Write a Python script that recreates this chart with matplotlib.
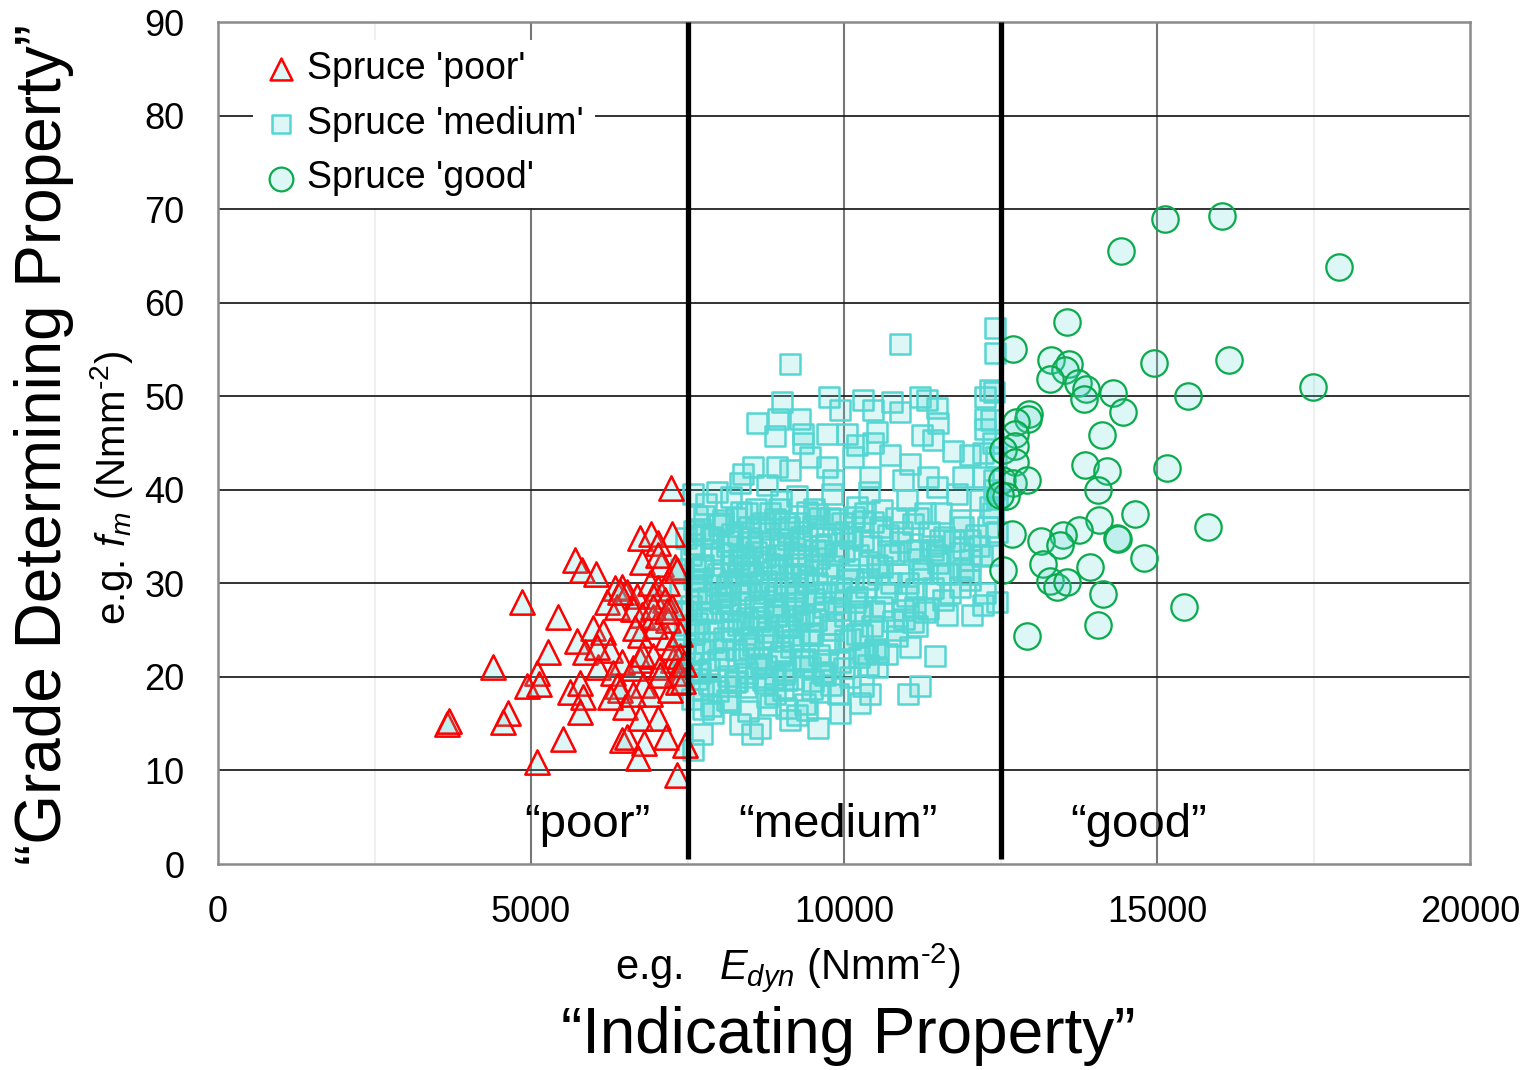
import matplotlib
matplotlib.use("Agg")
import matplotlib.pyplot as plt

plt.rcParams['font.family'] = ['Liberation Sans', 'DejaVu Sans']
plt.rcParams['mathtext.fontset'] = 'custom'
plt.rcParams['mathtext.rm'] = 'Liberation Sans'
plt.rcParams['mathtext.it'] = 'Liberation Sans:italic'

# ---- grading data: dynamic modulus (N/mm^2) vs bending strength (N/mm^2) ----
poor_x = [7231, 6741, 6917, 7247, 7029, 6768, 5703, 5809, 6033, 7077,
          7300, 4862, 6342, 6448, 6528, 6688, 6901, 7034, 7167, 6949,
          7141, 7247, 6209, 6368, 6634, 5437, 6768, 6954, 5996, 6145,
          5730, 5863, 6741, 7167, 5277, 6262, 6448, 6741, 6954, 7273,
          7380, 6076, 6315, 6634, 7061, 4388, 5091, 4931, 5133, 5623,
          5783, 5836, 5783, 6368, 6422, 6502, 6262, 6794, 6901, 7220,
          7354, 6741, 7034, 7157, 4638, 4558, 3653, 5505, 6448, 6528,
          6805, 6714, 5091, 7327, 7460, 6768, 7327, 7061, 6634, 6049,
          7194, 6981, 7247, 6422, 7034, 7327, 6661, 7380, 6954, 7167,
          3690, 7420, 7450]
poor_y = [40.2, 34.9, 35.3, 35.3, 34.3, 32.3, 32.5, 31.4, 31.0, 32.1,
          31.7, 28.0, 29.5, 29.6, 29.1, 28.6, 30.0, 29.5, 30.0, 28.6,
          28.2, 27.5, 28.0, 27.5, 27.3, 26.4, 26.6, 26.4, 25.2, 24.8,
          23.8, 22.7, 24.5, 24.3, 22.7, 22.9, 21.6, 21.8, 22.2, 21.8,
          22.2, 21.1, 20.4, 20.9, 21.1, 21.1, 20.4, 19.0, 19.2, 18.4,
          19.4, 17.9, 16.3, 19.0, 18.6, 16.8, 17.9, 19.1, 18.2, 18.6,
          19.5, 15.6, 15.6, 13.6, 16.1, 15.2, 15.0, 13.4, 13.3, 13.6,
          12.9, 11.3, 10.9, 9.5, 12.7, 22.5, 20.4, 20.2, 18.2, 23.2,
          26.1, 25.4, 23.2, 29.1, 33.0, 31.4, 25.2, 24.6, 27.5, 27.0,
          15.3, 19.6, 21.4]

medium_x = [
    # upper and outer part of the cloud
    9137, 10894, 12412, 12412, 9004, 9766, 10309, 10761, 11214, 11321,
    11480, 8605, 8950, 9297, 8898, 9350, 9723, 10043, 9936, 10522,
    10468, 10894, 11241, 11507, 12252, 12332, 12252, 12252, 12225, 12013,
    11746, 11427, 10202, 10468, 9350, 9457, 8551, 8392, 8924, 9137,
    9723, 10149, 10735, 11054, 11347, 11906, 12225, 7593, 7966, 8339,
    8765, 9244, 9830, 10415, 10948, 11480, 11799, 12172, 12332, 7753,
    8072, 8445, 11906, 12013, 11534,
    # lower part of the cloud
    11454, 11214, 11027, 10415, 10309, 9936, 10256, 9590, 9617, 9909,
    9244, 9137, 8658, 8525, 8339, 7912, 7753, 7726, 7593, 8126,
    8818, 9031, 9404, 10522, 10336, 10682, 11054, 12225, 12039, 11640,
    11347, 12013, 11853, 11587, 10948, 11161, 10841, 10522, 10202, 10016,
    9723, 9457, 9670, 9084, 8711, 8445, 8179, 7753, 7700, 11853,
    12013, 11427, 11161, 11534, 11267, 11906,
    # dense core
    7800, 8200, 8600, 9000, 9400, 9800, 10200, 10600, 11000, 11300,
    7650, 8900, 10400, 9600,
    7700, 8000, 8300, 8700, 9100, 9500, 9900, 10300, 10700, 11100,
    11600, 8500, 9300, 10100, 10900, 7600, 11400, 12100, 11900,
    7550, 7900, 8200, 8600, 8800, 9200, 9600, 10000, 10400, 10800,
    11200, 7750, 8400, 9000, 9800, 10600, 11500, 12200,
    7600, 7950, 8300, 8500, 8750, 9050, 9350, 9700, 10050, 10350,
    10750, 11150, 7700, 8100, 8900, 9500, 10200, 11000, 11700,
    7550, 7800, 8150, 8450, 8700, 8950, 9250, 9550, 9900, 10250,
    10600, 10950, 11300, 7650, 8300, 9100, 9800, 10450, 11100,
    7600, 7900, 8200, 8550, 8850, 9150, 9450, 9750, 10100, 10500,
    10850, 7700, 8400, 9000, 9600, 10300,
    7550, 7850, 8100, 8450, 8750, 9050, 9350, 9700, 10000, 7650,
    8250, 8900, 9500,
    7620, 7720, 7830, 7880, 7980, 8050, 8070, 8130, 8180, 8230,
    8280, 8340, 8380, 8420, 8480, 8520, 8580, 8620, 8660, 8720,
    8780, 8820, 8860, 8920, 8980, 9020, 9080, 9120, 9170, 9220,
    9280, 9320, 9380, 9420, 9460, 9520, 9570, 9630, 9680, 9730,
    9780, 9830, 9870, 9930, 9970, 10020, 10080, 10130, 10180, 10230,
    10280, 10330, 10380, 10430, 10480, 10530, 10580, 10650, 10700, 10780,
    10830, 10880, 10930, 11020, 11060, 11130, 11180, 11250, 11350, 11420,
    11480, 11550, 11650, 11750, 11850, 12000, 12150, 12300, 12400, 12350,
    12250,
    # squares just below the 7500 limit and along the 12500 limit
    7400, 7420, 7450, 7480, 7380, 7430, 7460,
    12400, 12350, 12380, 12420, 12400, 12450, 12380, 12450, 12440,
    8050, 8350, 8650, 8950, 9250, 9550, 9850, 10150, 8150, 8750,
    9350, 9950, 10550, 8450, 9050, 9650, 10250,
    # densest lower-left part of the cloud
    7580, 7680, 7780, 7880, 7980, 8080, 8180, 8280, 8380, 8480,
    8580, 8680, 8780, 8880, 8980, 9080, 9180, 9280, 9380, 9480,
    7630, 7730, 7830, 7930, 8030, 8130, 8230, 8330, 8430, 8530,
    8630, 8730, 8830, 8930, 9030, 9130, 9230, 9330, 9430, 9530,
    7610, 7760, 7910, 8060, 8210, 8360, 8510, 8660, 8810, 8960,
    9110, 9260, 9410, 9560, 9710, 9860, 10010, 10160, 10310, 10460,
    7690, 7840, 7990, 8140, 8290, 8440, 8590, 8740, 8890, 9040,
    9190, 9340, 9490, 9640, 9790, 9940, 10090, 10240, 10390, 10540,
    7570, 7870, 8170, 8470, 8770, 9070, 9370, 7720, 8020, 8320,
    8620, 8920, 9220, 9520]
medium_y = [
    53.5, 55.6, 57.3, 54.6, 49.4, 49.9, 49.6, 49.4, 49.9, 49.6,
    48.7, 47.1, 47.6, 47.6, 45.7, 46.0, 46.0, 46.0, 48.5, 46.2,
    48.5, 48.3, 45.9, 47.1, 49.9, 50.7, 47.6, 46.5, 43.9, 43.7,
    44.2, 45.3, 44.8, 45.0, 45.0, 43.5, 42.4, 41.7, 42.4, 42.1,
    42.4, 43.5, 43.7, 42.8, 41.4, 41.4, 41.4, 39.6, 39.8, 40.7,
    40.5, 39.3, 41.0, 41.4, 41.0, 40.3, 39.6, 38.9, 38.2, 35.3,
    36.4, 37.5, 36.0, 34.6, 34.6,
    22.2, 19.0, 18.2, 18.2, 19.0, 16.1, 17.2, 14.5, 18.4, 18.2,
    15.9, 15.4, 14.5, 13.9, 15.0, 16.1, 16.6, 13.9, 12.2, 17.5,
    17.0, 18.6, 16.5, 21.1, 22.5, 22.5, 23.2, 27.7, 26.6, 26.6,
    27.3, 30.4, 29.6, 28.2, 27.1, 25.4, 25.0, 25.0, 24.6, 23.9,
    21.8, 21.1, 20.4, 19.7, 19.7, 20.0, 19.0, 18.6, 20.4, 33.2,
    32.5, 33.6, 33.6, 31.1, 31.1, 31.4,
    38.5, 39.2, 38.0, 38.8, 37.6, 39.5, 38.2, 37.8, 38.9, 37.5,
    37.2, 36.9, 39.8, 37.0,
    35.8, 36.2, 35.1, 36.5, 35.5, 36.1, 35.3, 36.7, 35.2, 36.3,
    35.0, 34.8, 34.6, 34.9, 34.4, 34.2, 34.0, 35.2, 33.8,
    33.0, 33.6, 32.4, 33.3, 32.1, 33.8, 32.7, 33.5, 32.3, 33.1,
    32.6, 32.0, 31.8, 31.6, 31.9, 31.7, 32.2, 32.9,
    30.5, 29.8, 30.9, 29.3, 30.2, 29.5, 30.8, 29.1, 30.4, 29.6,
    30.0, 29.4, 29.0, 28.8, 28.6, 28.9, 28.5, 28.7, 29.0,
    27.6, 26.8, 27.9, 26.3, 27.4, 26.6, 27.8, 26.1, 27.2, 26.7,
    27.5, 26.2, 26.9, 25.8, 25.5, 25.3, 25.7, 25.4, 25.9,
    24.6, 23.7, 24.9, 23.4, 24.3, 23.2, 24.7, 23.5, 24.1, 23.0,
    24.4, 22.8, 22.5, 22.7, 22.3, 22.6,
    21.5, 20.8, 21.9, 20.4, 21.2, 20.6, 21.7, 20.2, 21.0, 19.8,
    19.5, 19.9, 19.6,
    31.5, 28.2, 25.0, 35.0, 31.0, 27.0, 23.0, 34.0, 30.0, 26.0,
    37.0, 28.0, 33.0, 24.0, 36.0, 31.0, 27.5, 22.0, 34.5, 29.0,
    25.5, 37.5, 31.5, 27.0, 34.0, 23.8, 30.0, 36.0, 27.0, 31.0,
    24.5, 35.0, 28.0, 32.5, 26.0, 38.0, 30.0, 34.0, 27.5, 31.0,
    37.0, 25.0, 33.0, 29.0, 36.5, 26.5, 31.5, 35.0, 28.0, 33.0,
    24.5, 37.5, 30.5, 34.0, 27.0, 32.0, 36.0, 29.0, 33.5, 26.0,
    37.0, 31.0, 35.5, 30.0, 33.5, 27.5, 37.0, 31.5, 35.5, 29.5,
    33.0, 37.5, 31.0, 34.5, 36.8, 31.0, 34.0, 36.0, 40.0, 33.0,
    29.0,
    31.5, 27.0, 23.0, 34.8, 29.0, 21.0, 25.5,
    50.5, 47.5, 45.0, 43.5, 41.0, 39.0, 37.5, 35.5, 28.0,
    28.5, 30.0, 26.0, 33.0, 29.5, 32.0, 28.0, 30.5, 34.5, 24.0,
    26.5, 29.5, 31.0, 32.0, 36.5, 33.5, 27.0,
    22.4, 25.1, 23.6, 26.9, 21.8, 24.2, 27.3, 22.9, 25.8, 23.1,
    26.4, 21.4, 24.8, 27.7, 22.2, 25.5, 23.9, 26.2, 21.9, 24.5,
    29.1, 31.8, 28.4, 30.6, 33.2, 29.7, 32.4, 28.9, 31.2, 33.9,
    30.1, 32.8, 29.4, 31.5, 34.1, 30.8, 28.6, 32.1, 30.3, 33.6,
    35.6, 37.2, 34.9, 36.8, 35.3, 37.6, 34.4, 36.1, 35.8, 37.9,
    34.7, 36.4, 35.1, 37.4, 34.2, 36.9, 35.5, 37.1, 34.6, 36.6,
    20.6, 19.2, 18.5, 20.1, 19.6, 18.9, 20.9, 19.3, 18.2, 20.3,
    19.8, 21.2, 18.7, 20.5, 19.1, 21.6, 20.0, 22.1, 21.3, 22.7,
    17.6, 16.9, 17.3, 16.4, 17.8, 16.7, 17.1, 30.2, 27.9, 32.6,
    29.8, 26.5, 33.1, 28.3]

good_x = [15128, 16043, 14420, 17907, 13557, 12705, 13307, 13599, 13530, 13291,
          13743, 13866, 13839, 14302, 14952, 16155, 17487, 15500, 14452, 12960,
          12944, 12748, 12732, 14126, 12732, 12535, 12732, 13850, 14196, 15165,
          12519, 12705, 12918, 14063, 12588, 12492, 14654, 14074, 15810, 12679,
          13754, 13503, 13142, 13456, 14356, 14372, 14792, 13174, 13930, 12545,
          13291, 13398, 13557, 14143, 15436, 14063, 12918]
good_y = [68.9, 69.3, 65.5, 63.8, 57.9, 55.1, 53.9, 53.5, 52.8, 51.8,
          51.4, 50.8, 49.7, 50.4, 53.6, 53.9, 51.0, 50.0, 48.3, 48.1,
          47.6, 47.3, 46.0, 45.9, 44.7, 44.3, 43.0, 42.6, 42.0, 42.3,
          41.0, 40.7, 41.0, 40.0, 39.3, 39.4, 37.4, 36.8, 36.0, 35.3,
          35.7, 35.2, 34.5, 34.1, 34.8, 34.7, 32.7, 32.1, 31.7, 31.4,
          30.3, 29.6, 30.1, 28.9, 27.5, 25.5, 24.4]

grade_limits = [7500, 12500]
grade_names = ['\u201cpoor\u201d', '\u201cmedium\u201d', '\u201cgood\u201d']
grade_label_x = [5900, 9900, 14700]

x_ticks = [0, 5000, 10000, 15000, 20000]
y_ticks = [0, 10, 20, 30, 40, 50, 60, 70, 80, 90]

fill = (0.333, 0.839, 0.824, 0.2)

fig = plt.figure(figsize=(15.28, 10.70), dpi=100)
ax = fig.add_axes([0.1427, 0.1925, 0.8194, 0.7869])
ax.set_xlim(0, 20000)
ax.set_ylim(0, 90)

# grid
ax.set_xticks(x_ticks)
ax.set_yticks(y_ticks)
ax.grid(False)
for xv in [2500, 7500, 12500, 17500]:
    ax.axvline(xv, color='#ececec', lw=1.2, zorder=0)
for xv in x_ticks[1:-1]:
    ax.axvline(xv, color='#777777', lw=1.5, zorder=0.5)
for yv in y_ticks[1:-1]:
    ax.axhline(yv, color='#222222', lw=1.3, zorder=0.5)

for s in ax.spines.values():
    s.set_color('#8a8a8a')
    s.set_linewidth(1.8)

ax.tick_params(which='both', length=0)
ax.tick_params(axis='x', labelsize=26, pad=22)
ax.tick_params(axis='y', labelsize=26, pad=24)

sq = ax.scatter(medium_x, medium_y, marker='s', s=14.4 ** 2, facecolors=[fill],
                edgecolors='#55d6d2', linewidths=1.8,
                zorder=2, label="Spruce 'medium'")
tri = ax.scatter(poor_x, poor_y, marker='^', s=17.5 ** 2, facecolors=[fill],
                 edgecolors='#ff0000', linewidths=1.8, zorder=3,
                 label="Spruce 'poor'")
circ = ax.scatter(good_x, good_y, marker='o', s=19 ** 2, facecolors=[fill],
                  edgecolors='#0aab4c', linewidths=1.6, zorder=4,
                  label="Spruce 'good'")

# grade limits
ax.vlines(grade_limits, 0.5, 90, colors='black', linewidth=3.8, zorder=5)

for name, xv in zip(grade_names, grade_label_x):
    ax.text(xv, 4.2, name, fontsize=34, ha='center', va='center', zorder=6)

leg = ax.legend(handles=[tri, sq, circ], loc='upper left',
                bbox_to_anchor=(0.028, 0.979), fontsize=27, frameon=True,
                facecolor='white', edgecolor='none', framealpha=1,
                markerscale=0.9, handlelength=0.9, handletextpad=0.25,
                labelspacing=0.5, borderpad=0.3, borderaxespad=0)
leg.set_zorder(7)

ax.set_xlabel(r'e.g.   $\mathit{E}_{\mathit{dyn}}$ (Nmm$^{\text{-2}}$)',
              fontsize=30)
ax.xaxis.set_label_coords(0.455, -0.091)
ax.set_ylabel(r'e.g. $\mathit{f}_{\mathit{m}}$ (Nmm$^{\text{-2}}$)',
              fontsize=29)
ax.yaxis.set_label_coords(-0.066, 0.447)

fig.text(0.555, 0.032, '\u201cIndicating Property\u201d', fontsize=46,
         ha='center', va='center')
fig.text(0.029, 0.585, '\u201cGrade Determining Property\u201d', fontsize=46,
         ha='center', va='center', rotation=90)

fig.savefig('out.png', dpi=100)
